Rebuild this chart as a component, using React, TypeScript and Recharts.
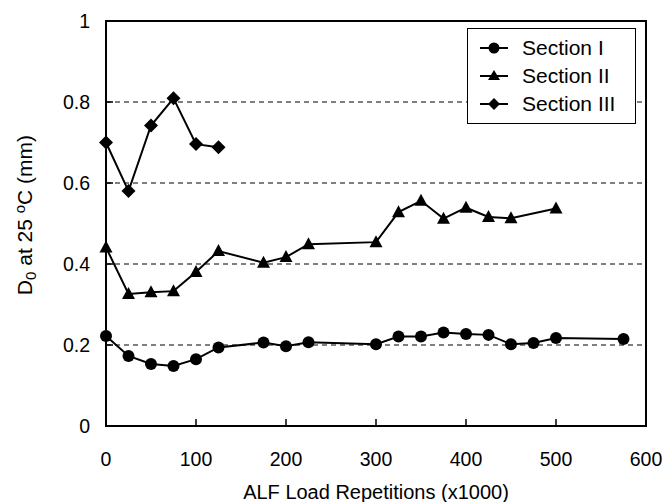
import React from 'react';
import { LineChart, Line, XAxis, YAxis, CartesianGrid, ReferenceLine } from 'recharts';

const FONT = '"Liberation Sans", Arial, Helvetica, sans-serif';

const seriesNames = ['Section I', 'Section II', 'Section III'];

const sec1X = [0, 25, 50, 75, 100, 125, 175, 200, 225, 300, 325, 350, 375, 400, 425, 450, 475, 500, 575];
const sec1Y = [0.222, 0.173, 0.153, 0.148, 0.165, 0.194, 0.206, 0.197, 0.207, 0.202, 0.221, 0.221, 0.231, 0.227, 0.225, 0.202, 0.205, 0.217, 0.215];

const sec2X = [0, 25, 50, 75, 100, 125, 175, 200, 225, 300, 325, 350, 375, 400, 425, 450, 500];
const sec2Y = [0.441, 0.326, 0.33, 0.333, 0.38, 0.432, 0.403, 0.417, 0.449, 0.454, 0.528, 0.556, 0.512, 0.539, 0.516, 0.513, 0.537];

const sec3X = [0, 25, 50, 75, 100, 125];
const sec3Y = [0.7, 0.58, 0.742, 0.809, 0.696, 0.688];

const xTicks = [0, 100, 200, 300, 400, 500, 600];
const yTicks = [0, 0.2, 0.4, 0.6, 0.8, 1];
const yTickLabels = ['0', '0.2', '0.4', '0.6', '0.8', '1'];
const gridTicks = [0.2, 0.4, 0.6, 0.8];

const xTitle = 'ALF Load Repetitions (x1000)';

// merged table for the chart (built from the arrays above)
const allX = Array.from(new Set([...sec1X, ...sec2X, ...sec3X])).sort((a, b) => a - b);
const pick = (xs: number[], ys: number[], x: number) => {
  const i = xs.indexOf(x);
  return i >= 0 ? ys[i] : null;
};
const rows = allX.map((x) => ({
  x,
  s1: pick(sec1X, sec1Y, x),
  s2: pick(sec2X, sec2Y, x),
  s3: pick(sec3X, sec3Y, x),
}));

const CircleDot = (p: any) => {
  if (p.cx == null || p.cy == null || p.value == null) return <g key={p.key} />;
  return <circle key={p.key} cx={p.cx} cy={p.cy} r={6} fill="#000" />;
};
const TriangleDot = (p: any) => {
  if (p.cx == null || p.cy == null || p.value == null) return <g key={p.key} />;
  const { cx, cy } = p;
  return <polygon key={p.key} points={`${cx},${cy - 7} ${cx + 6.5},${cy + 5} ${cx - 6.5},${cy + 5}`} fill="#000" />;
};
const DiamondDot = (p: any) => {
  if (p.cx == null || p.cy == null || p.value == null) return <g key={p.key} />;
  const { cx, cy } = p;
  return <polygon key={p.key} points={`${cx},${cy - 7} ${cx + 7},${cy} ${cx},${cy + 7} ${cx - 7},${cy}`} fill="#000" />;
};

// tick props: tickSize 6 + tickMargin 2 => (x, y) lies 8px outside the axis line
const XTick = (p: any) => {
  const { x, y, payload } = p;
  const v = Number(payload.value);
  const ay = y - 8;
  return (
    <g>
      {v > 0 && v < 600 ? <rect x={x - 0.75} y={ay - 7} width={1.5} height={7} fill="#000" /> : null}
      <text x={x} y={ay + 33} dy="0.35em" textAnchor="middle" fontSize={19.5} fontFamily={FONT} fill="#000">{payload.value}</text>
    </g>
  );
};

const YTick = (p: any) => {
  const { x, y, payload } = p;
  const v = Number(payload.value);
  const ax = x + 8;
  const idx = yTicks.indexOf(v);
  const label = idx >= 0 ? yTickLabels[idx] : String(v);
  return (
    <g>
      {v > 0 && v < 1 ? <rect x={ax} y={y - 0.75} width={7} height={1.5} fill="#000" /> : null}
      <text x={ax - 16} y={y} dy="0.35em" textAnchor="end" fontSize={19.5} fontFamily={FONT} fill="#000">{label}</text>
    </g>
  );
};

const legendShapes = ['circle', 'triangle', 'diamond'];

const LegendIcon = ({ shape }: { shape: string }) => (
  <svg width={28} height={16} style={{ display: 'block' }}>
    <line x1={0} x2={28} y1={8} y2={8} stroke="#000" strokeWidth={2} />
    {shape === 'circle' && <circle cx={14} cy={8} r={5.5} fill="#000" />}
    {shape === 'triangle' && <polygon points="14,2 20,12 8,12" fill="#000" />}
    {shape === 'diamond' && <polygon points="14,2 20,8 14,14 8,8" fill="#000" />}
  </svg>
);

export default function App() {
  return (
    <div style={{ position: 'absolute', left: 0, top: 0, width: 666, height: 502 }}>
      <LineChart width={666} height={502} data={rows} margin={{ top: 21, right: 20, left: 0, bottom: 0 }}>
        <CartesianGrid vertical={false} horizontalValues={gridTicks} stroke="#000" strokeDasharray="5 4" />
        <XAxis
          type="number"
          dataKey="x"
          domain={[0, 600]}
          ticks={xTicks}
          stroke="#000"
          strokeWidth={2}
          tickLine={false}
          height={76}
          tick={<XTick />}
        />
        <YAxis
          type="number"
          domain={[0, 1]}
          ticks={yTicks}
          stroke="#000"
          strokeWidth={2}
          tickLine={false}
          width={106}
          tick={<YTick />}
        />
        <ReferenceLine y={1} stroke="#000" strokeWidth={2} />
        <ReferenceLine x={600} stroke="#000" strokeWidth={2} />
        <Line dataKey="s1" name={seriesNames[0]} connectNulls stroke="#000" strokeWidth={2} dot={CircleDot} isAnimationActive={false} />
        <Line dataKey="s2" name={seriesNames[1]} connectNulls stroke="#000" strokeWidth={2} dot={TriangleDot} isAnimationActive={false} />
        <Line dataKey="s3" name={seriesNames[2]} connectNulls stroke="#000" strokeWidth={2} dot={DiamondDot} isAnimationActive={false} />
      </LineChart>

      {/* plot frame */}
      <div
        style={{
          position: 'absolute',
          left: 105,
          top: 20,
          width: 542,
          height: 407,
          border: '2px solid #000',
          boxSizing: 'border-box',
          pointerEvents: 'none',
        }}
      />

      <div
        style={{
          position: 'absolute',
          left: 106,
          top: 481,
          width: 540,
          height: 22,
          lineHeight: '22px',
          textAlign: 'center',
          fontFamily: FONT,
          fontSize: 20,
          color: '#000',
        }}
      >
        {xTitle}
      </div>

      <div
        style={{
          position: 'absolute',
          left: 25 - 150,
          top: 215 - 12,
          width: 300,
          height: 24,
          lineHeight: '24px',
          textAlign: 'center',
          fontFamily: FONT,
          fontSize: 21,
          color: '#000',
          transform: 'rotate(-90deg)',
          whiteSpace: 'nowrap',
        }}
      >
        D<span style={{ fontSize: 15, position: 'relative', top: 4 }}>0</span> at 25{' '}
        <span style={{ fontSize: 15, position: 'relative', top: -7 }}>o</span>C (mm)
      </div>

      <div
        style={{
          position: 'absolute',
          left: 467,
          top: 28,
          border: '1px solid #000',
          background: '#fff',
          padding: '5px 0 5px 12px',
          boxSizing: 'border-box',
          width: 169,
          fontFamily: FONT,
        }}
      >
        {seriesNames.map((n, i) => (
          <div key={n} style={{ display: 'flex', alignItems: 'center', height: 28 }}>
            <LegendIcon shape={legendShapes[i]} />
            <span style={{ marginLeft: 14, fontSize: 21, color: '#000', lineHeight: '28px' }}>{n}</span>
          </div>
        ))}
      </div>
    </div>
  );
}
